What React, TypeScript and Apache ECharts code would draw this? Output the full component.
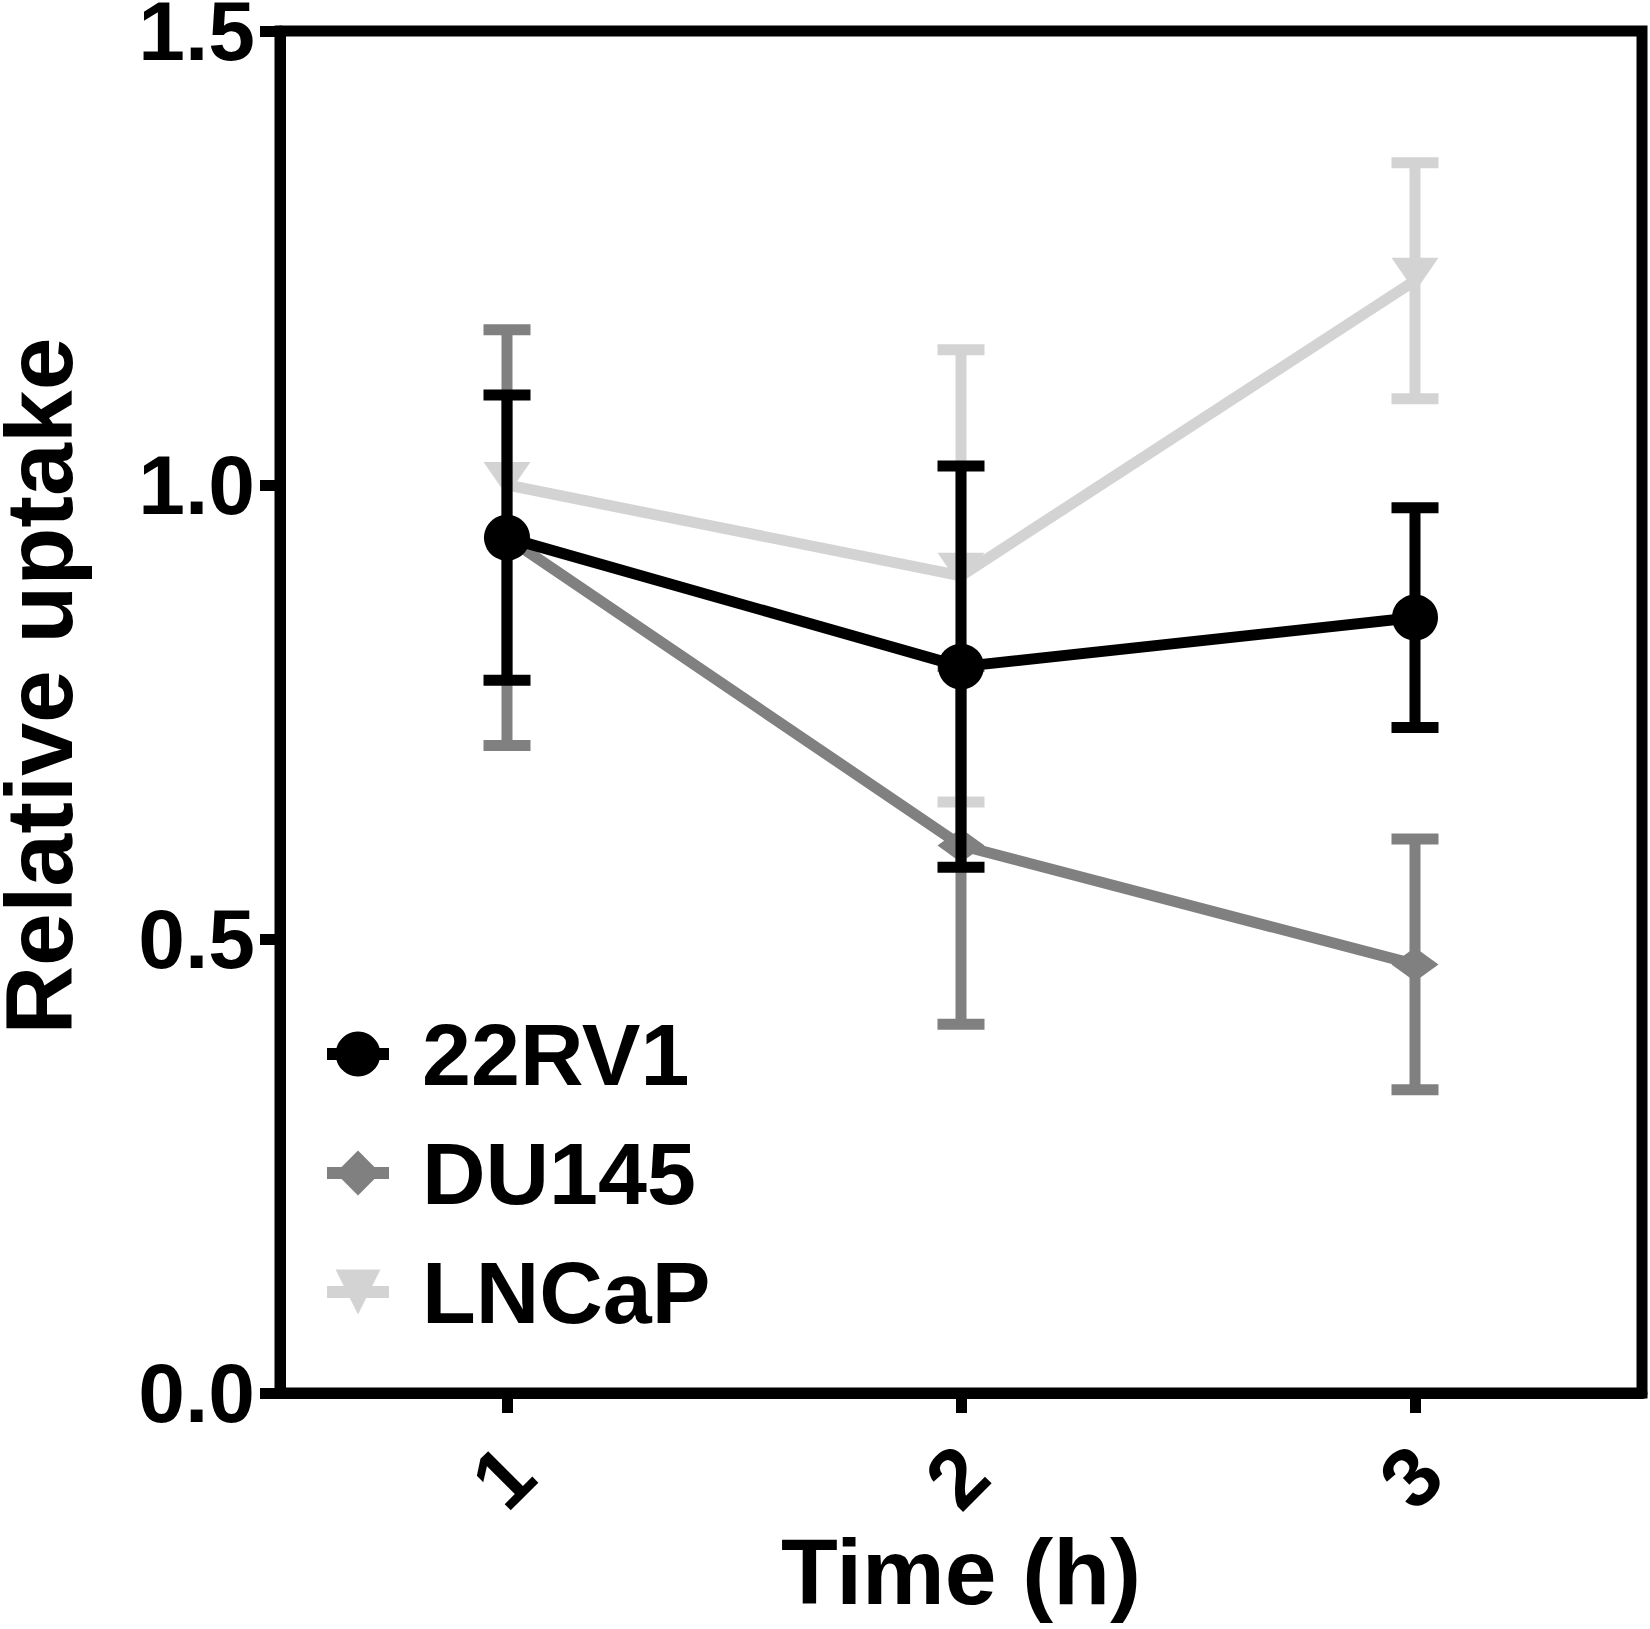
import React, { useEffect, useRef } from 'react';
import * as echarts from 'echarts';

const categories = ['1', '2', '3'];
const seriesNames = ['22RV1', 'DU145', 'LNCaP'];
const mean22RV1 = [0.942, 0.8, 0.854];
const sd22RV1 = [0.157, 0.221, 0.121];
const meanDU145 = [0.942, 0.603, 0.472];
const sdDU145 = [0.229, 0.197, 0.138];
const meanLNCaP = [1.0, 0.9, 1.225];
const sdLNCaP = [0, 0.249, 0.13];
const yTitle = 'Relative uptake';
const xTitle = 'Time (h)';

const FONT = '"Liberation Sans", Arial, sans-serif';
const C_22 = '#000000';
const C_DU = '#808080';
const C_LN = '#d3d3d3';

function errorSeries(name: string, means: number[], sds: number[], color: string, z: number) {
  return {
    type: 'custom',
    name: name + ' SD',
    z,
    silent: true,
    clip: false,
    encode: { x: 0, y: 1 },
    data: means.map((m, i) => [i, m, sds[i]]),
    renderItem: (params: any, api: any) => {
      const i = api.value(0);
      const m = api.value(1);
      const s = api.value(2);
      if (!s) return { type: 'group', children: [] };
      const top = api.coord([i, m + s]);
      const bot = api.coord([i, m - s]);
      const hw = 23.5;
      const style = { stroke: color, lineWidth: 11, fill: null };
      return {
        type: 'group',
        children: [
          { type: 'line', shape: { x1: top[0], y1: top[1], x2: bot[0], y2: bot[1] }, style },
          { type: 'line', shape: { x1: top[0] - hw, y1: top[1], x2: top[0] + hw, y2: top[1] }, style },
          { type: 'line', shape: { x1: bot[0] - hw, y1: bot[1], x2: bot[0] + hw, y2: bot[1] }, style },
        ],
      };
    },
  };
}

function lineSeries(name: string, means: number[], color: string, z: number, symbol: string, size: any, extra: any = {}) {
  return {
    type: 'line',
    name,
    z,
    data: means,
    symbol,
    symbolSize: size,
    showAllSymbol: true,
    lineStyle: { color, width: 11 },
    itemStyle: { color, borderWidth: 0 },
    emphasis: { disabled: true },
    silent: true,
    ...extra,
  };
}

export default function App() {
  const ref = useRef<HTMLDivElement>(null);
  useEffect(() => {
    document.body.style.margin = '0';
    if (!ref.current) return;
    const chart = echarts.init(ref.current, undefined, { renderer: 'svg' });
    const labelStyle = { fontSize: 84, fontWeight: 'bold', color: '#000', fontFamily: FONT, lineHeight: 62 };
    chart.setOption({
      animation: false,
      backgroundColor: '#ffffff',
      grid: {
        left: 280,
        top: 31,
        width: 1362,
        height: 1362,
        show: true,
        borderColor: '#000',
        borderWidth: 11,
        backgroundColor: 'transparent',
        containLabel: false,
        outerBoundsMode: 'none',
      },
      xAxis: {
        type: 'category',
        data: categories,
        boundaryGap: true,
        axisLine: { show: true, lineStyle: { color: '#000', width: 11 } },
        axisTick: { show: true, alignWithLabel: true, length: 20, lineStyle: { color: '#000', width: 11 } },
        axisLabel: { ...labelStyle, rotate: 45, align: 'center', verticalAlign: 'middle', margin: 80, padding: [0, 11, 11, 0] },
        splitLine: { show: false },
        name: xTitle,
        nameLocation: 'middle',
        nameGap: 132,
        nameMoveOverlap: false,
        nameTextStyle: { fontSize: 93, fontWeight: 'bold', color: '#000', fontFamily: FONT },
      },
      yAxis: {
        type: 'value',
        min: 0,
        max: 1.5,
        interval: 0.5,
        axisLine: { show: true, lineStyle: { color: '#000', width: 11 } },
        axisTick: { show: true, length: 20, lineStyle: { color: '#000', width: 11 } },
        axisLabel: { ...labelStyle, margin: 25, formatter: (v: number) => v.toFixed(1) },
        splitLine: { show: false },
      },
      legend: {
        data: seriesNames,
        orient: 'vertical',
        left: 321,
        top: 1010,
        padding: 0,
        itemWidth: 62,
        itemHeight: 56,
        itemGap: 31,
        selectedMode: false,
        lineStyle: { width: 12 },
        itemStyle: { borderWidth: 0 },
        textStyle: { fontSize: 88, fontWeight: 'bold', color: '#000', fontFamily: FONT, lineHeight: 88, padding: [0, 0, 0, 28] },
      },
      graphic: [
        {
          type: 'text',
          x: 39,
          y: 686,
          rotation: Math.PI / 2,
          silent: true,
          style: {
            text: yTitle,
            fontSize: 95,
            fontWeight: 'bold',
            fontFamily: FONT,
            fill: '#000',
            lineHeight: 70,
            align: 'center',
            verticalAlign: 'middle',
          },
        },
      ],
      series: [
        errorSeries('LNCaP', meanLNCaP, sdLNCaP, C_LN, 1),
        lineSeries('LNCaP', meanLNCaP, C_LN, 2, 'triangle', [47, 34], { symbolRotate: 180, symbolOffset: [0, -6] }),
        errorSeries('DU145', meanDU145, sdDU145, C_DU, 3),
        lineSeries('DU145', meanDU145, C_DU, 4, 'diamond', [47, 34]),
        errorSeries('22RV1', mean22RV1, sd22RV1, C_22, 5),
        lineSeries('22RV1', mean22RV1, C_22, 6, 'circle', 46),
      ],
    });
    return () => chart.dispose();
  }, []);
  return <div ref={ref} style={{ width: 1650, height: 1629 }} />;
}
